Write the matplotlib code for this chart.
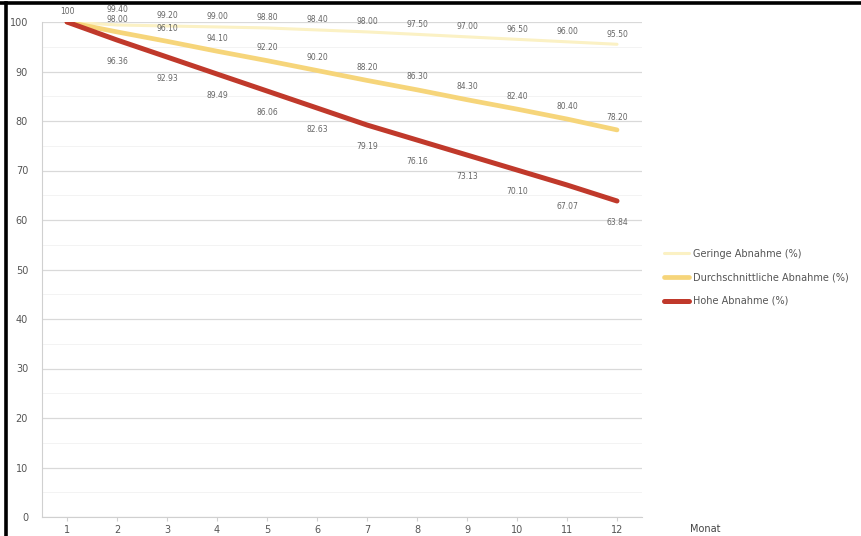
import matplotlib
matplotlib.use("Agg")
import matplotlib.pyplot as plt
from matplotlib.lines import Line2D

months = list(range(1, 13))
x_label = "Monat"
series_names = ["Geringe Abnahme (%)", "Durchschnittliche Abnahme (%)", "Hohe Abnahme (%)"]
low_loss = [100, 99.4, 99.2, 99.0, 98.8, 98.4, 98.0, 97.5, 97.0, 96.5, 96.0, 95.5]
avg_loss = [100, 98.0, 96.1, 94.1, 92.2, 90.2, 88.2, 86.3, 84.3, 82.4, 80.4, 78.2]
high_loss = [100, 96.36, 92.93, 89.49, 86.06, 82.63, 79.19, 76.16, 73.13, 70.10, 67.07, 63.84]
y_ticks = list(range(0, 101, 10))

W, H = 861, 536
fig = plt.figure(figsize=(W / 100, H / 100), dpi=100)
ax = fig.add_axes([42 / W, (H - 517) / H, 600 / W, 495 / H])

ax.set_xlim(0.5, 12.5)
ax.set_ylim(0, 100)
ax.set_yticks(y_ticks)
ax.set_yticks(range(5, 100, 10), minor=True)
ax.set_xticks(months)
ax.set_xticklabels([str(m) for m in months])
ax.grid(axis="y", which="major", color="#d9d9d9", linewidth=0.9)
ax.grid(axis="y", which="minor", color="#f3f3f3", linewidth=0.7)
ax.set_axisbelow(True)
for side in ["top", "right"]:
    ax.spines[side].set_visible(False)
for side in ["left", "bottom"]:
    ax.spines[side].set_color("#d0d0d0")
ax.tick_params(axis="y", which="both", length=0, labelsize=7, labelcolor="#555555", pad=10)
ax.tick_params(axis="x", length=3, color="#d0d0d0", labelsize=7, labelcolor="#555555", pad=3)

l1, = ax.plot(months, low_loss, color="#fbf1c4", linewidth=2.2, solid_capstyle="round")
l2, = ax.plot(months, avg_loss, color="#f6d57a", linewidth=3.4, solid_capstyle="round")
l3, = ax.plot(months, high_loss, color="#c0392b", linewidth=3.6, solid_capstyle="round")

def fmt(v):
    return "100" if v == 100 else f"{v:.2f}"

for i, (m, v) in enumerate(zip(months, low_loss)):
    dy = 8 if i == 1 else 4  # lift the label clear of the neighbouring series
    ax.annotate(fmt(v), (m, v), xytext=(0, dy), textcoords="offset points",
                ha="center", va="bottom", fontsize=5.5, color="#666666")
for m, v in list(zip(months, avg_loss))[1:]:
    ax.annotate(fmt(v), (m, v), xytext=(0, 6), textcoords="offset points",
                ha="center", va="bottom", fontsize=5.5, color="#666666")
for m, v in list(zip(months, high_loss))[1:]:
    ax.annotate(fmt(v), (m, v), xytext=(0, -12), textcoords="offset points",
                ha="center", va="top", fontsize=5.5, color="#666666")

fig.text(690 / W, (H - 529) / H, x_label, fontsize=7, color="#444444", va="center")

fig.legend([l1, l2, l3], series_names, loc="upper left",
           bbox_to_anchor=(655 / W, (H - 240) / H), frameon=False,
           fontsize=7, labelcolor="#555555", handlelength=2.6,
           labelspacing=1.4, handletextpad=0.4)

# figure frame along the top and left edges
fig.add_artist(Line2D([0, 1], [(H - 3) / H] * 2, color="black", linewidth=2.6,
                      transform=fig.transFigure))
fig.add_artist(Line2D([6 / W] * 2, [0, (H - 3) / H], color="black", linewidth=2.6,
                      transform=fig.transFigure))

fig.savefig("out.png", dpi=100)
